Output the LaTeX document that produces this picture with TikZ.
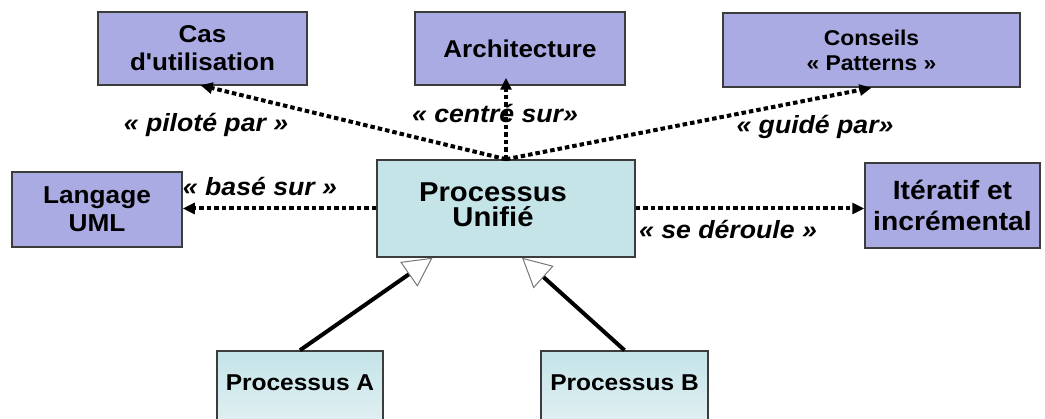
\documentclass[tikz,border=0pt]{standalone}
\usepackage{fontspec}
\setmainfont{Liberation Sans}[Ligatures=TeXOff, FakeStretch=1.07]
\usetikzlibrary{arrows.meta,calc}

\definecolor{boxpurple}{RGB}{171,171,227}
\definecolor{boxcyan}{RGB}{196,228,232}
\definecolor{boxcyanlight}{RGB}{228,241,243}
\definecolor{edgegray}{RGB}{60,60,60}
\definecolor{tipgray}{RGB}{120,120,120}

\tikzset{
  concept/.style={draw=edgegray, line width=1.5pt, fill=boxpurple, inner sep=0pt,
    align=center, font=\fontsize{24.3}{28}\selectfont\bfseries},
  process/.style={draw=edgegray, line width=1.5pt, fill=boxcyan, inner sep=0pt},
  subprocess/.style={draw=edgegray, line width=1.5pt, inner sep=0pt,
    top color=boxcyan, bottom color=boxcyanlight},
  stereo/.style={font=\fontsize{24.9}{27}\selectfont\bfseries\itshape, anchor=base, inner sep=0pt},
  depends/.style={line width=4pt, dash pattern=on 4.5pt off 3pt,
    -{Triangle[length=12pt,width=11pt]}},
  inherits/.style={line width=4pt,
    -{Triangle[length=29pt,width=30pt,color=tipgray,fill=white,line width=1pt]}}
}

\begin{document}
\begin{tikzpicture}[x=1pt,y=-1pt]
  \useasboundingbox (0,0) rectangle (1045,419);
  \clip (0,0) rectangle (1045,419);
  \fill[white] (0,0) rectangle (1045,419);

  % concept boxes
  \node[concept, minimum width=209pt, minimum height=73pt] (cas) at (202.5,48.5)
    {Cas\\d'utilisation};
  \node[concept, minimum width=210pt, minimum height=73pt] (arch) at (520,48.5)
    {Architecture};
  \node[concept, minimum width=297pt, minimum height=74pt,
        font=\fontsize{21.4}{25}\selectfont\bfseries] (cons) at (871.5,50)
    {Conseils\\« Patterns »};
  \node[concept, minimum width=170pt, minimum height=75pt,
        font=\fontsize{24.5}{28}\selectfont\bfseries] (lang) at (97,209.5)
    {Langage\\UML};
  \node[concept, minimum width=175pt, minimum height=85pt,
        font=\fontsize{26.4}{31}\selectfont\bfseries] (iter) at (952.5,205.5)
    {Itératif et\\incrémental};

  % central process
  \node[process, minimum width=258pt, minimum height=97pt,
        label={[name=putext, align=center, xshift=-13pt, yshift=3.5pt,
                font=\fontsize{27.3}{25}\selectfont\bfseries]center:Processus\\Unifié}]
    (pu) at (506,208.5) {};

  % specialised processes
  \node[subprocess, minimum width=166pt, minimum height=80pt,
        label={[name=patext, yshift=8pt, font=\fontsize{22.9}{26}\selectfont\bfseries]center:Processus A}]
    (pa) at (300,391) {};
  \node[subprocess, minimum width=167pt, minimum height=80pt,
        label={[name=pbtext, yshift=8pt, font=\fontsize{22.9}{26}\selectfont\bfseries]center:Processus B}]
    (pb) at (624.5,391) {};

  % stereotype labels
  \node[stereo] (lpilote) at (206,132) {« piloté par »};
  \node[stereo] (lcentre) at (495,123) {« centré sur»};
  \node[stereo] (lguide) at (815,134) {« guidé par»};
  \node[stereo] (lbase) at (260,196) {« basé sur »};
  \node[stereo] (lderoule) at (728,239) {« se déroule »};

  % dependencies
  \draw[depends, shorten >=-2pt] (pu.north) -- (cas.south);
  \draw[depends, shorten >=-8pt] (pu.north) -- (pu.north |- arch.south);
  \draw[depends] (pu.north) -- (cons.south);
  \draw[depends] (pu.west) -- (pu.west -| lang.east);
  \draw[depends] (pu.east) -- (pu.east -| iter.west);

  % generalisations
  \draw[inherits] (pa.north) -- ($(pu.south west)!0.217!(pu.south east)$);
  \draw[inherits] (pb.north) -- ($(pu.south west)!0.562!(pu.south east)$);
\end{tikzpicture}
\end{document}
